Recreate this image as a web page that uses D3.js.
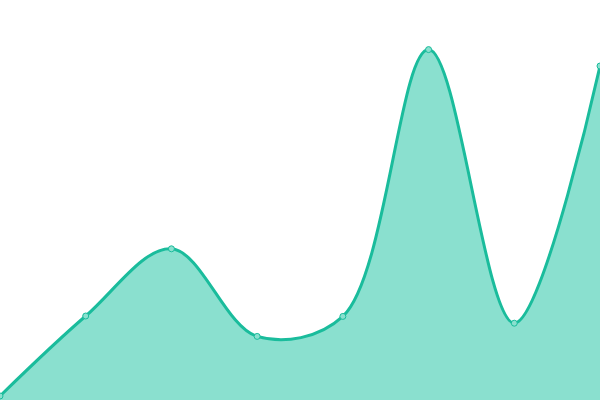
<!DOCTYPE html>
<html>
<head>
<meta charset="utf-8">
<script src="https://cdn.jsdelivr.net/npm/d3@7"></script>
<style>
  html, body { margin: 0; padding: 0; background: #fff; }
  svg { display: block; }
</style>
</head>
<body>
<div id="chart"></div>
<script>
// Kategorien und Werte (aus dem Bild geschaetzt)
const categories = ['A', 'B', 'C', 'D', 'E', 'F', 'G', 'H'];
const values     = [1, 21, 37.8, 15.9, 20.9, 87.6, 19.2, 83.5];

const width = 600, height = 400;

const svg = d3.select('#chart')
  .append('svg')
    .attr('width', width)
    .attr('height', height);

// Skalen
const x = d3.scalePoint()
  .domain(categories)
  .range([0, width]);
const y = d3.scaleLinear()
  .domain([0, 100])
  .range([height, 0]);

const data = categories.map((c, i) => ({ cat: c, val: values[i] }));

// Flaeche
const area = d3.area()
  .x(d => x(d.cat))
  .y0(height)
  .y1(d => y(d.val))
  .curve(d3.curveCatmullRom);

svg.append('path')
  .datum(data)
  .attr('d', area)
  .attr('fill', '#8ae0cf');

// Linie
const line = d3.line()
  .x(d => x(d.cat))
  .y(d => y(d.val))
  .curve(d3.curveCatmullRom);

svg.append('path')
  .datum(data)
  .attr('d', line)
  .attr('fill', 'none')
  .attr('stroke', '#1abc9c')
  .attr('stroke-width', 3);

// Punkte
svg.selectAll('circle.dot')
  .data(data)
  .enter()
  .append('circle')
    .attr('class', 'dot')
    .attr('cx', d => x(d.cat))
    .attr('cy', d => y(d.val))
    .attr('r', 3)
    .attr('fill', '#8ae0cf')
    .attr('stroke', '#1abc9c')
    .attr('stroke-width', 1);
</script>
</body>
</html>
